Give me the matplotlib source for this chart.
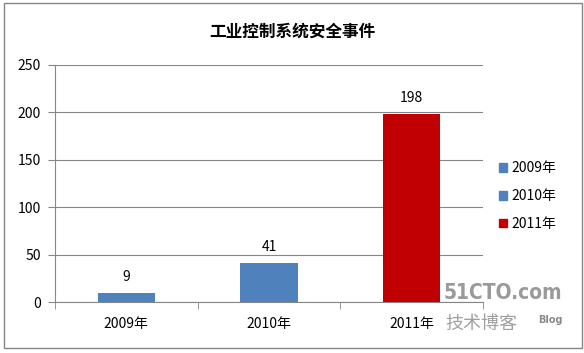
import matplotlib.pyplot as plt
import matplotlib.patches as patches
import numpy as np

plt.rcParams['font.family'] = ['Noto Sans CJK SC', 'DejaVu Sans']

# data
years = ["2009年", "2010年", "2011年"]
events = [9, 41, 198]
bar_colors = ["#4F81BD", "#4F81BD", "#C00000"]
title = "工业控制系统安全事件"
yticks = [0, 50, 100, 150, 200, 250]

W, H = 584, 353
fig = plt.figure(figsize=(W / 100, H / 100), dpi=100)
ax = fig.add_axes([55 / W, 1 - 302 / H, (483 - 55) / W, (302 - 65) / H])

x = np.arange(len(years))
bars = ax.bar(x, events, width=0.4, color=bar_colors, zorder=3)
for xi, v in zip(x, events):
    ax.text(xi, v + 10, str(v), ha='center', va='bottom', fontsize=10)

ax.set_xlim(-0.5, len(years) - 0.5)
ax.set_ylim(0, 250)
ax.set_yticks(yticks)
ax.set_yticklabels([str(t) for t in yticks], fontsize=10)
ax.grid(axis='y', color='#868686', linewidth=0.8, zorder=0)

# category labels, ticks at the boundaries
ax.set_xticks(x)
ax.set_xticklabels(years, fontsize=10)
ax.tick_params(axis='x', length=0, pad=11)
ax.set_xticks(np.arange(len(years) + 1) - 0.5, minor=True)
ax.tick_params(axis='x', which='minor', length=5, color='#868686')
ax.tick_params(axis='y', length=5, color='#868686', pad=5)

for s in ['top', 'right']:
    ax.spines[s].set_visible(False)
for s in ['left', 'bottom']:
    ax.spines[s].set_color('#868686')

fig.text(0.5, 1 - 32 / H, title, ha='center', va='center',
         fontsize=12, fontweight='bold')

# legend
handles = [patches.Patch(color=c) for c in bar_colors]
fig.legend(handles, years, loc='center left', bbox_to_anchor=(486 / W, 1 - 196 / H),
           frameon=False, fontsize=10, handlelength=0.6, handleheight=0.6,
           handletextpad=0.35, labelspacing=1.0)

# outer border
fig.patches.append(patches.Rectangle((4 / W, 1 - 348 / H), 578 / W, 345 / H,
                                     transform=fig.transFigure, fill=False,
                                     edgecolor='#868686', linewidth=1))

# watermark
fig.text(503 / W, 1 - 293 / H, "51CTO.com", ha='center', va='center',
         fontsize=15, fontweight='bold', color='#9a9a9a', family='DejaVu Sans',
         fontstretch='condensed')
fig.text(481 / W, 1 - 324 / H, "技术博客", ha='center', va='center',
         fontsize=13, color='#a0a0a0')
fig.text(550 / W, 1 - 320 / H, "Blog", ha='center', va='center',
         fontsize=7, fontweight='bold', color='#8a8a8a', family='DejaVu Sans')

fig.savefig("out.png", dpi=100)
